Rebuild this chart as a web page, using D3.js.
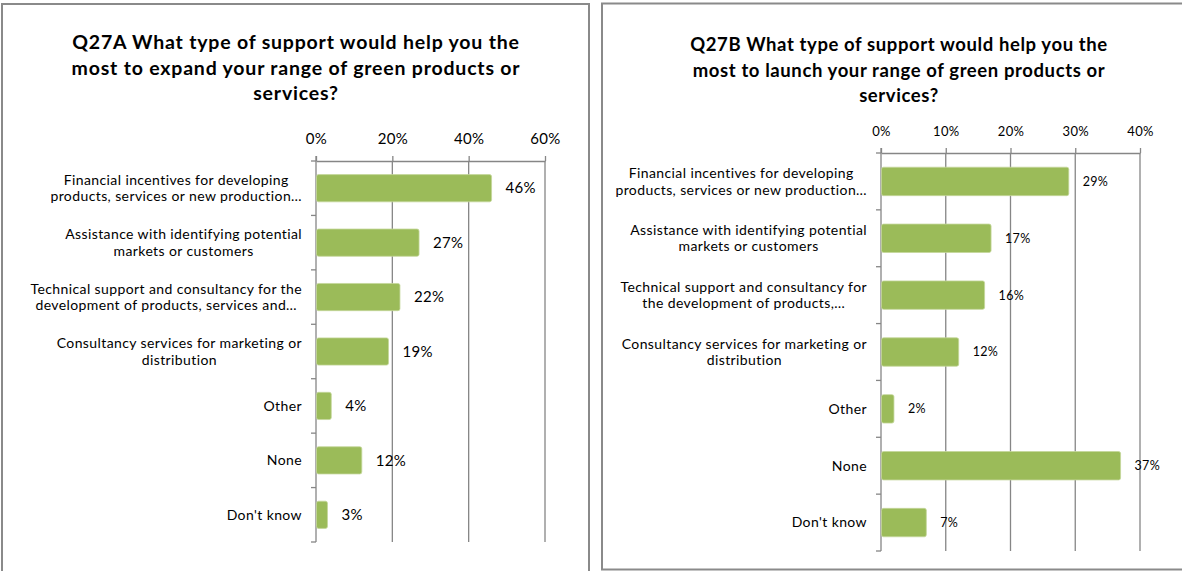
<!DOCTYPE html>
<html>
<head>
<meta charset="utf-8">
<script src="https://cdn.jsdelivr.net/npm/d3@7"></script>
<style>
  html, body { margin: 0; padding: 0; background: #fff; }
  svg { display: block; font-family: Lato, "Open Sans", sans-serif; }
</style>
</head>
<body>
<svg id="chart" width="1182" height="571"></svg>
<script>
// Category labels (each entry is a list of wrapped lines)
const categoriesA = [
  ["Financial incentives for developing", "products, services or new production\u2026"],
  ["Assistance with identifying potential", "markets or customers"],
  ["Technical support and consultancy for the", "development of products, services and\u2026"],
  ["Consultancy services for marketing or", "distribution"],
  ["Other"],
  ["None"],
  ["Don't know"]
];
const categoriesB = [
  ["Financial incentives for developing", "products, services or new production\u2026"],
  ["Assistance with identifying potential", "markets or customers"],
  ["Technical support and consultancy for", "the development of products,\u2026"],
  ["Consultancy services for marketing or", "distribution"],
  ["Other"],
  ["None"],
  ["Don't know"]
];

// Share of respondents (%)
const valuesA = [46, 27, 22, 19, 4, 12, 3];
const valuesB = [29, 17, 16, 12, 2, 37, 7];

// Axis ticks (%)
const ticksA = [0, 20, 40, 60];
const ticksB = [0, 10, 20, 30, 40];

const titleA = [
  "Q27A What type of support would help you the",
  "most to expand your range of green products or",
  "services?"
];
const titleB = [
  "Q27B What type of support would help you the",
  "most to launch your range of green products or",
  "services?"
];

const svg = d3.select("#chart");
const BAR = "#9bbb59";
const GRID = "#868686";
const FRAME = "#8a8a8a";

function panel(cfg) {
  const g = svg.append("g");

  // outer frame
  g.append("rect")
    .attr("x", cfg.frame[0]).attr("y", cfg.frame[1])
    .attr("width", cfg.frame[2]).attr("height", cfg.frame[3])
    .attr("fill", "none").attr("stroke", FRAME).attr("stroke-width", 2);

  // title
  g.append("text")
    .attr("text-anchor", "middle")
    .attr("font-weight", "bold")
    .attr("font-size", cfg.titleSize)
    .attr("letter-spacing", cfg.titleSpacing)
    .attr("fill", "#000")
    .selectAll("tspan").data(cfg.title).join("tspan")
      .attr("x", cfg.titleX)
      .attr("y", (d, i) => cfg.titleY + i * cfg.titleLead)
      .text(d => d);

  const idx = d3.range(cfg.values.length);
  const x = d3.scaleLinear().domain([0, d3.max(cfg.ticks)]).range(cfg.xRange);
  const y = d3.scaleBand().domain(idx).range(cfg.yRange).paddingInner(0.5).paddingOuter(0.25);
  const top = cfg.yRange[0], bottom = cfg.yRange[1];

  // vertical gridlines
  g.append("g").selectAll("line").data(cfg.ticks.filter(t => t > 0)).join("line")
    .attr("x1", d => x(d)).attr("x2", d => x(d))
    .attr("y1", top).attr("y2", bottom)
    .attr("stroke", GRID).attr("stroke-width", 1.3);

  // top value axis
  const ax = g.append("g")
    .attr("transform", `translate(0,${top})`)
    .call(d3.axisTop(x).tickValues(cfg.ticks).tickSize(5).tickSizeOuter(0)
      .tickPadding(cfg.tickPad).tickFormat(d => d + "%"));
  ax.select(".domain").attr("stroke", GRID).attr("stroke-width", 1.3);
  ax.selectAll(".tick line").attr("stroke", GRID).attr("stroke-width", 1.3);
  ax.selectAll(".tick text").attr("font-size", cfg.tickSize).attr("fill", "#000")
    .attr("letter-spacing", 0.3)
    .attr("font-family", "Lato, sans-serif");

  // category axis with ticks between bands
  const step = y.step();
  const off = (step - y.bandwidth()) / 2;
  const bounds = idx.map(i => y(i) - off).concat([y(idx.length - 1) + y.bandwidth() + off]);
  const x0 = x(0);
  g.append("line")
    .attr("x1", x0).attr("x2", x0).attr("y1", top - 5).attr("y2", bottom)
    .attr("stroke", GRID).attr("stroke-width", 1.3);
  g.append("g").selectAll("line").data(bounds).join("line")
    .attr("x1", x0 - 5).attr("x2", x0)
    .attr("y1", d => d).attr("y2", d => d)
    .attr("stroke", GRID).attr("stroke-width", 1.3);

  // bars
  g.append("g").selectAll("rect").data(idx).join("rect")
    .attr("x", x0 + 0.5)
    .attr("y", i => y(i))
    .attr("width", i => x(cfg.values[i]) - x0 - 0.5)
    .attr("height", y.bandwidth())
    .attr("rx", 2)
    .attr("fill", BAR)
    .attr("stroke", "#c4d79b").attr("stroke-width", 0.8);

  // value labels
  g.append("g").selectAll("text").data(idx).join("text")
    .attr("x", i => x(cfg.values[i]) + cfg.valGap)
    .attr("y", i => y(i) + y.bandwidth() / 2)
    .attr("dy", "0.35em")
    .attr("font-size", cfg.valSize)
    .attr("letter-spacing", 0.3)
    .attr("fill", "#000")
    .text(i => cfg.values[i] + "%");

  // category labels: lines centred on each other, block right-aligned to the axis
  const labelRight = x0 - cfg.labelGap;
  idx.forEach(i => {
    const lines = cfg.categories[i];
    const t = g.append("text")
      .attr("font-size", cfg.labelSize)
      .attr("letter-spacing", cfg.labelSpacing)
      .attr("fill", "#000")
      .attr("text-anchor", "middle");
    const cy = y(i) + y.bandwidth() / 2;
    const n = lines.length;
    const spans = t.selectAll("tspan").data(lines).join("tspan")
      .attr("y", (d, k) => cy + (k - (n - 1) / 2) * cfg.labelLead)
      .attr("dy", "0.35em")
      .text(d => d);
    let maxW = 0;
    spans.each(function () { maxW = Math.max(maxW, this.getComputedTextLength()); });
    spans.attr("x", labelRight - maxW / 2);
  });
}

panel({
  frame: [2, 4, 587, 620],
  title: titleA, titleX: 296, titleY: 49, titleLead: 25.5, titleSize: 19.5, titleSpacing: 0.8,
  values: valuesA, categories: categoriesA, ticks: ticksA,
  xRange: [316, 545], yRange: [161, 542],
  tickSize: 15, tickPad: 12, valSize: 15, valGap: 14,
  labelSize: 14, labelSpacing: 0.4, labelLead: 16.5, labelGap: 14
});

panel({
  frame: [602, 3.5, 620, 566],
  title: titleB, titleX: 899, titleY: 51, titleLead: 25.5, titleSize: 18.5, titleSpacing: 0.6,
  values: valuesB, categories: categoriesB, ticks: ticksB,
  xRange: [881, 1140], yRange: [153, 551],
  tickSize: 13, tickPad: 12, valSize: 12.5, valGap: 14,
  labelSize: 14, labelSpacing: 0.4, labelLead: 16.5, labelGap: 14
});
</script>
</body>
</html>
